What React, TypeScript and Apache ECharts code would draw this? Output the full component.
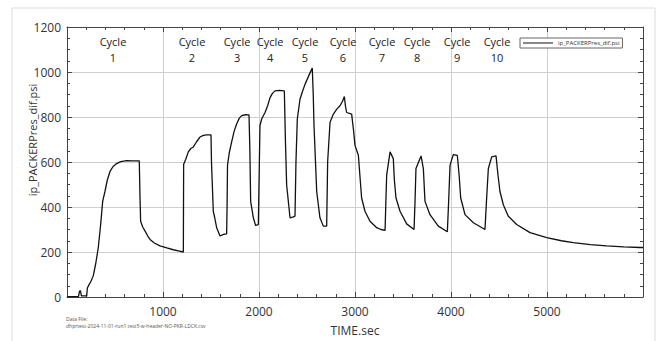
import React, { useEffect, useRef } from "react";
import * as echarts from "echarts";

const timeSec: number[] = [
  0, 60, 120, 130, 140, 150, 205, 212, 230, 250, 274, 300, 326, 350, 372, 396, 420, 448, 480, 517,
  560, 622, 680, 753, 760, 767, 790, 812, 840, 865, 910, 969, 1040, 1107, 1160, 1212, 1215, 1235,
  1264, 1290, 1316, 1350, 1385, 1420, 1455, 1500, 1505, 1524, 1540, 1559, 1594, 1630, 1663, 1668,
  1672, 1690, 1715, 1740, 1767, 1795, 1820, 1860, 1896, 1905, 1913, 1941, 1965, 1993, 2000, 2010,
  2028, 2063, 2090, 2115, 2140, 2167, 2210, 2264, 2275, 2288, 2323, 2350, 2375, 2385, 2399, 2427,
  2450, 2479, 2520, 2555, 2565, 2573, 2601, 2635, 2670, 2705, 2715, 2740, 2775, 2810, 2844, 2870,
  2889, 2900, 2913, 2965, 2985, 3000, 3035, 3069, 3104, 3156, 3226, 3270, 3313, 3320, 3330, 3365,
  3399, 3410, 3427, 3469, 3538, 3615, 3625, 3635, 3688, 3712, 3729, 3781, 3868, 3962, 3975, 3990,
  4024, 4066, 4085, 4101, 4146, 4233, 4354, 4370, 4389, 4424, 4469, 4490, 4510, 4545, 4597, 4684,
  4823, 4997, 5150, 5274, 5450, 5622, 5800, 5969, 6000,
];

const packerPsi: number[] = [
  2, 2, 3, 25, 28, 5, 5, 40, 55, 70, 95, 150, 220, 320, 426, 470, 520, 558, 580, 593,
  602, 606, 605, 605, 450, 337, 310, 294, 272, 256, 240, 227, 218, 210, 205, 200, 590, 610,
  645, 660, 667, 690, 711, 718, 721, 721, 600, 381, 350, 308, 271, 278, 281, 420,
  586, 640, 689, 735, 769, 795, 806, 810, 809, 650, 425, 352, 318, 322, 500, 762,
  791, 820, 850, 886, 905, 916, 918, 916, 700, 498, 352, 355, 359, 600, 791, 879,
  910, 945, 985, 1018, 900, 762, 469, 352, 315, 315, 600, 777, 813, 835, 850, 870,
  891, 850, 820, 813, 740, 674, 630, 440, 381, 337, 308, 300, 296, 400, 542, 645,
  615, 520, 440, 381, 325, 300, 420, 571, 627, 571, 425, 366, 315, 290, 420, 586,
  633, 629, 540, 440, 366, 330, 300, 430, 571, 623, 627, 540, 469, 410, 359, 322,
  286, 264, 250, 242, 233, 227, 223, 220, 220,
];

const cycleNames: string[] = ["1", "2", "3", "4", "5", "6", "7", "8", "9", "10"];
const cycleTimes: number[] = [479, 1302, 1771, 2115, 2479, 2875, 3281, 3646, 4063, 4479];
const cycleLabelY = 1100;

const seriesName = "ip_PACKERPres_dif.psi";
const xAxisName = "TIME.sec";
const dataFileLines: string[] = [
  "Data File:",
  "dhprtest-2024-11-01-run1 test5-w-header-NO-PKR-LDCK.csv",
];

const FONT = "'Open Sans', 'DejaVu Sans', sans-serif";

export default function App() {
  const ref = useRef<HTMLDivElement>(null);

  useEffect(() => {
    if (!ref.current) return;
    const chart = echarts.init(ref.current, undefined, { renderer: "svg" });

    const axisLine = { show: true, onZero: false, lineStyle: { color: "#444", width: 1 } };
    const axisTick = { show: true, inside: true, length: 5, lineStyle: { color: "#444", width: 1 } };
    const plainNum = (v: number) => String(v);

    chart.setOption({
      animation: false,
      backgroundColor: "#fff",
      color: ["#111", "#333"],
      textStyle: { fontFamily: FONT },
      grid: { left: 67, right: 16, top: 27, bottom: 41, containLabel: false },
      legend: {
        data: [{ name: seriesName, icon: "rect" }],
        left: 520,
        top: 38,
        orient: "horizontal",
        itemWidth: 30,
        itemHeight: 1,
        padding: [2, 3, 2, 3],
        borderColor: "#666",
        borderWidth: 1,
        borderRadius: 0,
        backgroundColor: "#fff",
        textStyle: { fontSize: 6, color: "#333", fontFamily: FONT },
      },
      xAxis: [
        {
          type: "value",
          min: 0,
          max: 6000,
          interval: 1000,
          position: "bottom",
          axisLine,
          axisTick,
          minorTick: { show: true, splitNumber: 5, length: 3, lineStyle: { color: "#444" } },
          splitLine: { show: true, lineStyle: { color: "#cfcfcf", width: 1 } },
          axisLabel: {
            color: "#333",
            fontSize: 12,
            margin: 8,
            showMinLabel: false,
            showMaxLabel: false,
            fontFamily: FONT,
            formatter: plainNum,
          },
          name: xAxisName,
          nameLocation: "middle",
          nameGap: 27,
          nameTextStyle: { color: "#333", fontSize: 12, fontFamily: FONT },
        },
        {
          type: "value",
          min: 0,
          max: 6000,
          interval: 1000,
          position: "top",
          axisLine,
          axisTick,
          minorTick: { show: true, splitNumber: 5, length: 3, lineStyle: { color: "#444" } },
          splitLine: { show: false },
          axisLabel: { show: false },
        },
      ],
      yAxis: [
        {
          type: "value",
          min: 0,
          max: 1200,
          interval: 200,
          position: "left",
          axisLine,
          axisTick,
          minorTick: { show: true, splitNumber: 4, length: 3, lineStyle: { color: "#444" } },
          splitLine: { show: true, lineStyle: { color: "#cfcfcf", width: 1 } },
          axisLabel: { color: "#333", fontSize: 12, margin: 6, fontFamily: FONT, formatter: plainNum },
        },
        {
          type: "value",
          min: 0,
          max: 1200,
          interval: 200,
          position: "right",
          axisLine,
          axisTick,
          minorTick: { show: true, splitNumber: 4, length: 3, lineStyle: { color: "#444" } },
          splitLine: { show: false },
          axisLabel: { show: false },
        },
      ],
      graphic: [
        {
          type: "rect",
          shape: { x: 12, y: 8, width: 643, height: 345 },
          style: { fill: "none", stroke: "#dcdcdc", lineWidth: 1 },
          silent: true,
          z: -10,
        },
        {
          type: "text",
          x: 32,
          y: 140,
          rotation: Math.PI / 2,
          style: {
            text: seriesName,
            fontSize: 11,
            fill: "#333",
            fontFamily: FONT,
            textAlign: "center",
            textVerticalAlign: "middle",
          },
        },
        {
          type: "text",
          x: 66,
          y: 319,
          style: {
            text: dataFileLines[0],
            fontSize: 5,
            fill: "#555",
            fontFamily: FONT,
            textVerticalAlign: "middle",
          },
        },
        {
          type: "text",
          x: 66,
          y: 326,
          style: {
            text: dataFileLines[1],
            fontSize: 5,
            fill: "#555",
            fontFamily: FONT,
            textVerticalAlign: "middle",
          },
        },
      ],
      series: [
        {
          name: seriesName,
          type: "line",
          xAxisIndex: 0,
          yAxisIndex: 0,
          symbol: "none",
          showSymbol: false,
          data: timeSec.map((t, i) => [t, packerPsi[i]]),
          lineStyle: { color: "#111", width: 1.3 },
          itemStyle: { color: "#111" },
          z: 5,
        },
        {
          name: "cycles",
          type: "scatter",
          xAxisIndex: 0,
          yAxisIndex: 0,
          symbolSize: 0,
          silent: true,
          itemStyle: { color: "#333", opacity: 1 },
          data: cycleTimes.map((t, i) => ({ value: [t, cycleLabelY], name: cycleNames[i] })),
          label: {
            show: true,
            position: "inside",
            formatter: (p: any) => `Cycle\n${p.name}`,
            fontSize: 11,
            lineHeight: 16,
            color: "#222",
            opacity: 1,
            textBorderWidth: 0,
            textBorderColor: "transparent",
            fontFamily: FONT,
            align: "center",
          },
          z: 6,
        },
      ],
    });

    return () => chart.dispose();
  }, []);

  return (
    <div
      ref={ref}
      style={{ position: "fixed", left: 0, top: 0, width: 659, height: 341 }}
    />
  );
}
